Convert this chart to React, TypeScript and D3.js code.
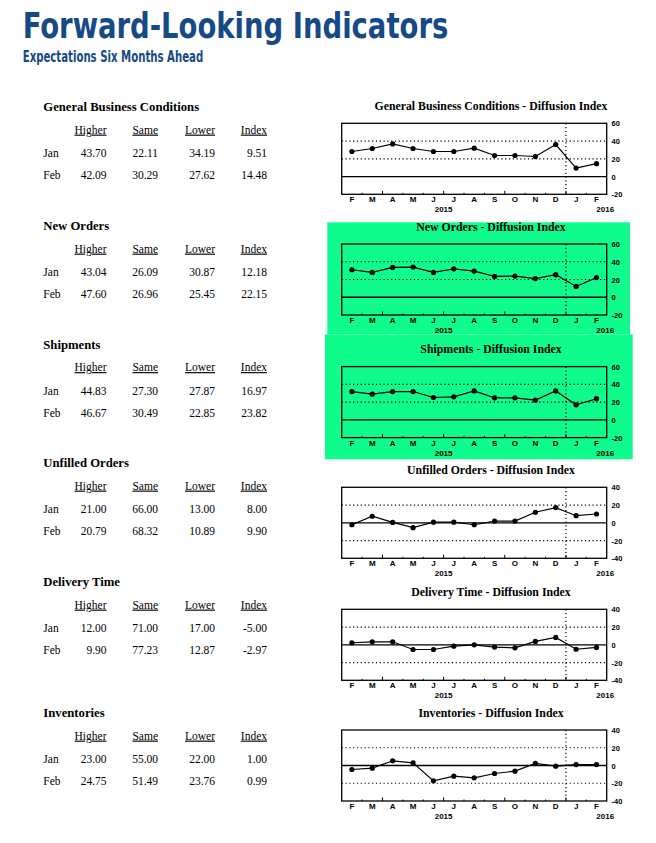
import React from 'react';
import * as d3 from 'd3';

// months Feb 2015 .. Feb 2016
const months = ['F', 'M', 'A', 'M', 'J', 'J', 'A', 'S', 'O', 'N', 'D', 'J', 'F'];
const tableColumns = ['Higher', 'Same', 'Lower', 'Index'];
const rowLabels = ['Jan', 'Feb'];

const sectionNames = ['General Business Conditions', 'New Orders', 'Shipments', 'Unfilled Orders', 'Delivery Time', 'Inventories'];

// diffusion index series
const generalIndex = [28.2, 31.6, 36.8, 31.6, 28.2, 28.2, 32.0, 23.7, 23.7, 22.6, 36.1, 9.51, 14.48];
const newOrdersIndex = [31.0, 28.0, 33.6, 34.0, 28.0, 32.0, 29.5, 23.5, 23.9, 21.0, 25.4, 12.18, 22.15];
const shipmentsIndex = [31.9, 28.9, 31.9, 31.9, 25.2, 25.9, 32.6, 24.8, 24.8, 22.2, 32.6, 16.97, 23.82];
const unfilledIndex = [-2.2, 7.4, 0.4, -5.5, 0.7, 0.7, -2.2, 1.9, 1.9, 11.9, 17.0, 8.0, 9.9];
const deliveryIndex = [2.3, 3.4, 3.4, -5.3, -5.3, -1.5, 0.0, -2.6, -3.4, 3.8, 8.3, -5.0, -2.97];
const inventoriesIndex = [-4.5, -3.0, 5.3, 3.0, -17.3, -12.0, -13.9, -9.0, -6.4, 2.3, -0.8, 1.0, 0.99];

// survey tables (Jan, Feb)
const generalTable = [[43.70, 22.11, 34.19, 9.51], [42.09, 30.29, 27.62, 14.48]];
const newOrdersTable = [[43.04, 26.09, 30.87, 12.18], [47.60, 26.96, 25.45, 22.15]];
const shipmentsTable = [[44.83, 27.30, 27.87, 16.97], [46.67, 30.49, 22.85, 23.82]];
const unfilledTable = [[21.00, 66.00, 13.00, 8.00], [20.79, 68.32, 10.89, 9.90]];
const deliveryTable = [[12.00, 71.00, 17.00, -5.00], [9.90, 77.23, 12.87, -2.97]];
const inventoriesTable = [[23.00, 55.00, 22.00, 1.00], [24.75, 51.49, 23.76, 0.99]];

const posDomain = [-20, 60];
const mixedDomain = [-40, 40];

const sections = [
  { name: sectionNames[0], series: generalIndex, table: generalTable, domain: posDomain },
  { name: sectionNames[1], series: newOrdersIndex, table: newOrdersTable, domain: posDomain },
  { name: sectionNames[2], series: shipmentsIndex, table: shipmentsTable, domain: posDomain },
  { name: sectionNames[3], series: unfilledIndex, table: unfilledTable, domain: mixedDomain },
  { name: sectionNames[4], series: deliveryIndex, table: deliveryTable, domain: mixedDomain },
  { name: sectionNames[5], series: inventoriesIndex, table: inventoriesTable, domain: mixedDomain },
];

const tableTops = [111, 230, 348.5, 467, 586, 717];
const chartTops = [110, 230.7, 353.3, 474, 596, 716.7];

const serif = '"Liberation Serif", "Times New Roman", serif';
const sans = '"Liberation Sans", Arial, sans-serif';
const narrow = '"Liberation Sans Narrow", "DejaVu Sans Condensed", "Liberation Sans", sans-serif';
const blue = '#164a86';
const green = '#0ffc8c';

const boxLeft = 341.7;
const boxRight = 606.7;
const boxH = 71;

const colRight = [106.5, 158, 215, 267];

const x = d3.scalePoint<string>()
  .domain(months.map((_, i) => String(i)))
  .range([boxLeft, boxRight])
  .padding(0.5);
const step = x.step();

const Chart: React.FC<{ title: string; series: number[]; domain: number[]; top: number }> = ({ title, series, domain, top }) => {
  const boxTop = top + 13.3;
  const y = d3.scaleLinear().domain(domain).range([boxTop + boxH, boxTop]);
  const ticks = d3.range(domain[0], domain[1] + 1, 20);
  const line = d3.line<number>()
    .x((_, i) => x(String(i)) as number)
    .y(d => y(d));
  const boundaries = d3.range(1, months.length).map(i => (x(String(i)) as number) - step / 2);
  const splitX = (x('10') as number) + step / 2;

  return (
    <g>
      <text x={491} y={top} textAnchor="middle" fontFamily={serif} fontWeight="bold" fontSize={11.8}>
        {title} - Diffusion Index
      </text>
      {ticks.filter(t => t !== 0 && t !== domain[0] && t !== domain[1]).map(t => (
        <line key={t} x1={boxLeft} x2={boxRight} y1={y(t)} y2={y(t)} stroke="#000" strokeWidth={1.2} strokeDasharray="1.2,2.6" />
      ))}
      <line x1={boxLeft} x2={boxRight} y1={y(0)} y2={y(0)} stroke="#000" strokeWidth={1.3} />
      <line x1={splitX} x2={splitX} y1={boxTop} y2={boxTop + boxH} stroke="#000" strokeWidth={1.2} strokeDasharray="1.2,2.6" />
      {boundaries.map((b, i) => (
        <line key={i} x1={b} x2={b} y1={boxTop + boxH} y2={boxTop + boxH - (i % 3 === 1 ? 3.5 : 1.5)} stroke="#000" strokeWidth={1} />
      ))}
      <rect x={boxLeft} y={boxTop} width={boxRight - boxLeft} height={boxH} fill="none" stroke="#000" strokeWidth={1.3} />
      <path d={line(series) || ''} fill="none" stroke="#000" strokeWidth={1.2} />
      {series.map((d, i) => (
        <circle key={i} cx={x(String(i))} cy={y(d)} r={2.6} fill="#000" />
      ))}
      {ticks.map(t => (
        <text key={t} x={611.5} y={y(t) + 3} fontFamily={sans} fontWeight="bold" fontSize={7.5}>{t}</text>
      ))}
      {months.map((m, i) => (
        <text key={i} x={x(String(i))} y={boxTop + boxH + 8} textAnchor="middle" fontFamily={sans} fontWeight="bold" fontSize={8}>{m}</text>
      ))}
      <text x={(x('4') as number) + step / 2} y={boxTop + boxH + 18} textAnchor="middle" fontFamily={sans} fontWeight="bold" fontSize={8}>2015</text>
      <text x={boxRight - 1.5} y={boxTop + boxH + 18} textAnchor="middle" fontFamily={sans} fontWeight="bold" fontSize={8}>2016</text>
    </g>
  );
};

const Table: React.FC<{ title: string; rows: number[][]; top: number }> = ({ title, rows, top }) => (
  <g fontFamily={serif}>
    <text x={43.3} y={top} fontWeight="bold" fontSize={12.7}>{title}</text>
    {tableColumns.map((c, j) => (
      <text key={c} x={colRight[j]} y={top + 22.6} textAnchor="end" fontSize={11.5} style={{ textDecoration: 'underline' }}>{c}</text>
    ))}
    {rows.map((r, i) => (
      <g key={i}>
        <text x={43.3} y={top + 46.3 + i * 21.7} fontSize={11.5}>{rowLabels[i]}</text>
        {r.map((v, j) => (
          <text key={j} x={colRight[j]} y={top + 46.3 + i * 21.7} textAnchor="end" fontSize={11.5}>{v.toFixed(2)}</text>
        ))}
      </g>
    ))}
  </g>
);

export default function App() {
  return (
    <svg width={656} height={843} style={{ position: 'absolute', left: 0, top: 0, background: '#fff' }}>
      <rect x={0} y={0} width={656} height={843} fill="#fff" />
      <rect x={327.3} y={222.3} width={302.7} height={112} fill={green} />
      <rect x={325} y={334.3} width={307.7} height={125} fill={green} />
      <text x={22.7} y={38.3} fill={blue} fontFamily={narrow}
        fontWeight="bold" fontSize={35} textLength={425.6} lengthAdjust="spacingAndGlyphs">Forward-Looking Indicators</text>
      <text x={22.7} y={62.3} fill={blue} fontFamily={narrow}
        fontWeight="bold" fontSize={15} textLength={180.5} lengthAdjust="spacingAndGlyphs">Expectations Six Months Ahead</text>
      {sections.map((s, i) => (
        <g key={s.name}>
          <Table title={s.name} rows={s.table} top={tableTops[i]} />
          <Chart title={s.name} series={s.series} domain={s.domain} top={chartTops[i]} />
        </g>
      ))}
    </svg>
  );
}
